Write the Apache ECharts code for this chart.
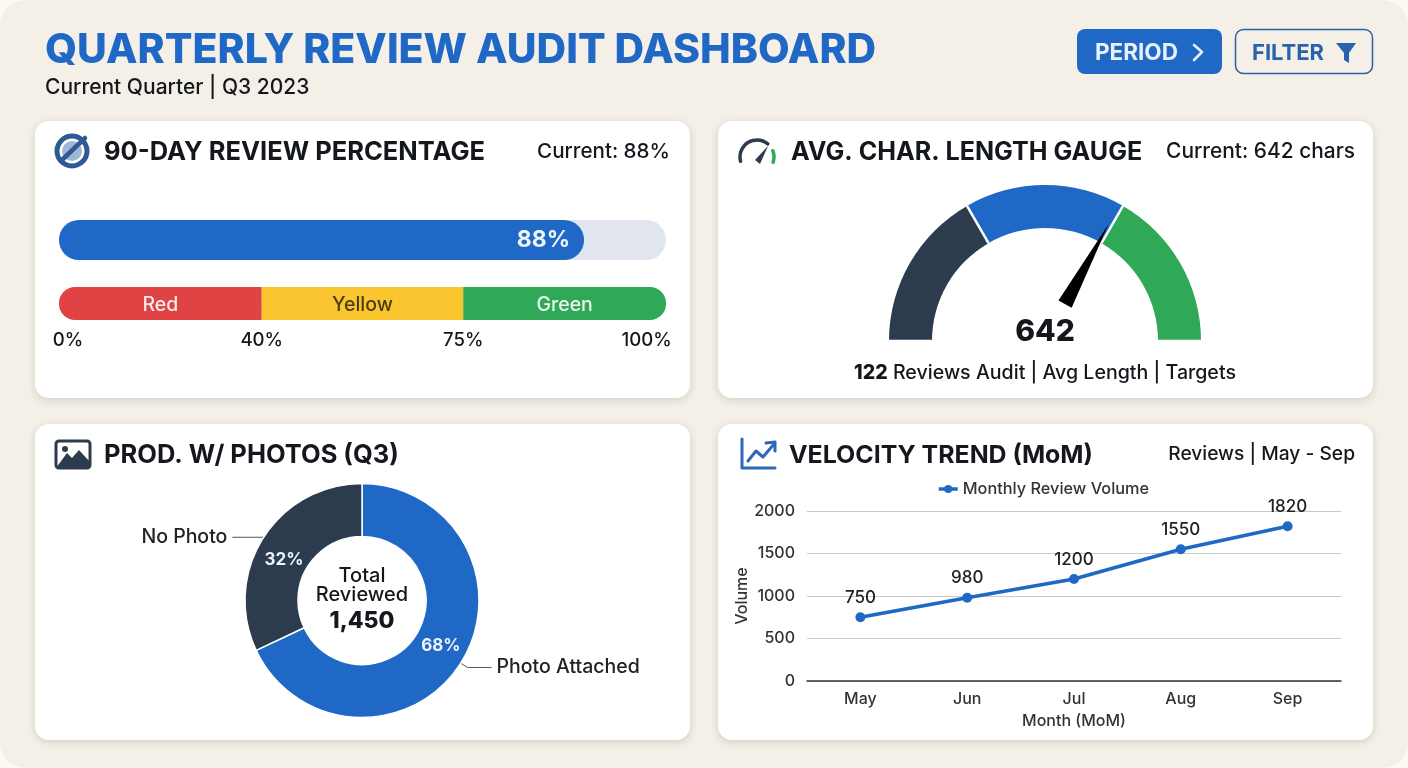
<!DOCTYPE html>
<html>
<head>
<meta charset="utf-8">
<style>
html,body{margin:0;padding:0;background:#fbfaf6;}
#main{width:1408px;height:768px;}
</style>
<script src="https://cdn.jsdelivr.net/npm/echarts@6/dist/echarts.min.js"></script>
</head>
<body>
<div id="main"></div>
<script>
var FONT = 'Inter';
var BLUE = '#1f68c6', NAVY = '#2c3b4e', GREEN = '#2fa858', INK = '#14171c';

// 90-day review
var progressLabel = '88%';
var progressDrawn = [86.5];     // where the bar actually stops in the picture
var bandNames = ['Red', 'Yellow', 'Green'];
var bandSpans = [33.4, 33.2, 33.4];   // the bands are drawn equal width, not 40/35/25
var bandColors = ['#e04343', '#fbc52f', '#2fa858'];
var bandTextColors = ['#fbeaea', '#4a3d10', '#e8f6ec'];
var bandTickLabels = ['0%', '40%', '75%', '100%'];
var bandTickSpots = [1.5, 33.4, 66.6, 96.8];

// gauge
var gaugeValue = 642;
var gaugeMax = 975;
var gaugeStops = [1 / 3, 2 / 3, 1];
var gaugeColors = [NAVY, BLUE, GREEN];

// photos
var photoNames = ['Photo Attached', 'No Photo'];
var photoShares = [68, 32];
var photoColors = [BLUE, NAVY];

// velocity
var months = ['May', 'Jun', 'Jul', 'Aug', 'Sep'];
var volumes = [750, 980, 1200, 1550, 1820];

function txt(x, y, text, size, weight, color, align) {
	return {
		type: 'text', x: x, y: y + 2, z: 5,
		style: {
			text: text, fontFamily: FONT, fontSize: size, fontWeight: weight || 400,
			fill: color || INK, align: align || 'left', verticalAlign: 'middle'
		}
	};
}
function card(x, y, w, h) {
	return {
		type: 'rect', z: 1,
		shape: { x: x, y: y, width: w, height: h, r: 14 },
		style: { fill: '#fff', shadowBlur: 9, shadowColor: 'rgba(60,50,30,0.18)', shadowOffsetY: 2 }
	};
}
function stroke(color, w) {
	return { stroke: color, lineWidth: w, fill: null, lineCap: 'round', lineJoin: 'round' };
}

var decor = [
	{ type: 'rect', z: 0, shape: { x: 0, y: 0, width: 1408, height: 768, r: 26 }, style: { fill: '#f4f0e8' } },
	card(35, 121, 655, 277), card(718, 121, 655, 277),
	card(35, 424, 655, 316), card(718, 424, 655, 316),

	txt(45, 49, 'QUARTERLY REVIEW AUDIT DASHBOARD', 41, 800, BLUE),
	txt(45, 86, 'Current Quarter | Q3 2023', 21, 500, INK),

	// buttons
	{ type: 'rect', z: 2, shape: { x: 1077, y: 29, width: 145, height: 45, r: 8 }, style: { fill: BLUE } },
	txt(1095, 51, 'PERIOD', 22.5, 700, '#e8f1fb'),
	{ type: 'polyline', z: 5, shape: { points: [[1194, 45], [1202, 52], [1194, 60]] }, style: stroke('#e8f1fb', 2.6) },
	{ type: 'rect', z: 2, shape: { x: 1235.5, y: 29.5, width: 137, height: 44, r: 8 }, style: { fill: '#f4f0e8', stroke: '#2c5f9e', lineWidth: 1.5 } },
	txt(1252, 51, 'FILTER', 22, 700, '#2a62ad'),
	{ type: 'polygon', z: 5, shape: { points: [[1336, 43], [1356, 43], [1349, 53], [1349, 63], [1344, 60], [1344, 53]] }, style: { fill: '#2a62ad' } },

	// card 1 head
	{ type: 'circle', z: 3, shape: { cx: 72, cy: 151, r: 10 }, style: { fill: '#9fb8d8' } },
	{ type: 'circle', z: 4, shape: { cx: 72, cy: 151, r: 15 }, style: stroke('#2d5a94', 5) },
	{ type: 'line', z: 4, shape: { x1: 62, y1: 160, x2: 85, y2: 138 }, style: stroke('#2d5a94', 4.5) },
	txt(104, 150.5, '90-DAY REVIEW PERCENTAGE', 25.5, 700, INK),
	txt(670, 150, 'Current: 88%', 20.6, 500, INK, 'right'),

	// card 2 head
	{ type: 'arc', z: 4, shape: { cx: 757, cy: 157, r: 17, startAngle: Math.PI * 0.92, endAngle: Math.PI * 1.72 }, style: stroke(NAVY, 3.5) },
	{ type: 'arc', z: 4, shape: { cx: 757, cy: 157, r: 17, startAngle: Math.PI * 1.88, endAngle: Math.PI * 2.1 }, style: stroke(GREEN, 3.5) },
	{ type: 'polygon', z: 4, shape: { points: [[768, 146], [760, 164], [755, 160]] }, style: { fill: NAVY } },
	txt(791, 150.5, 'AVG. CHAR. LENGTH GAUGE', 25.1, 700, INK),
	txt(1355, 150, 'Current: 642 chars', 20.9, 500, INK, 'right'),
	{
		type: 'text', x: 1045, y: 373, z: 5,
		style: {
			text: '{b|122} Reviews Audit | Avg Length | Targets', align: 'center', verticalAlign: 'middle',
			fontFamily: FONT, fontSize: 19.6, fontWeight: 500, fill: INK,
			rich: { b: { fontFamily: FONT, fontSize: 19.6, fontWeight: 800, fill: INK } }
		}
	},

	// card 3 head
	{ type: 'rect', z: 4, shape: { x: 56, y: 441, width: 34, height: 27, r: 3 }, style: stroke(NAVY, 3) },
	{ type: 'polygon', z: 4, shape: { points: [[56, 468], [67, 453], [72, 458], [79, 450], [90, 462], [90, 468]] }, style: { fill: NAVY } },
	{ type: 'circle', z: 4, shape: { cx: 65, cy: 449, r: 3 }, style: { fill: NAVY } },
	txt(104, 453.5, 'PROD. W/ PHOTOS (Q3)', 25.5, 700, INK),
	txt(362, 574, 'Total', 20, 500, INK, 'center'),
	txt(362, 593, 'Reviewed', 20, 500, INK, 'center'),
	txt(362, 619.5, '1,450', 23, 800, INK, 'center'),

	// card 4 head
	{ type: 'polyline', z: 4, shape: { points: [[742, 439], [742, 468], [775, 468]] }, style: stroke('#2d68b8', 3) },
	{ type: 'polyline', z: 4, shape: { points: [[748, 461], [756, 451], [763, 457], [774, 444]] }, style: stroke('#2d68b8', 3) },
	{ type: 'polyline', z: 4, shape: { points: [[766, 443], [775, 442], [775, 451]] }, style: stroke('#2d68b8', 3) },
	txt(789, 453.5, 'VELOCITY TREND (MoM)', 24.9, 700, INK),
	txt(1355, 452.5, 'Reviews | May - Sep', 19.2, 500, INK, 'right')
];

var bandSeries = bandNames.map(function (name, i) {
	var last = bandNames.length - 1;
	return {
		name: name, type: 'bar', stack: 'bands', xAxisIndex: 1, yAxisIndex: 1, barWidth: 33,
		data: [bandSpans[i]],
		itemStyle: {
			color: bandColors[i],
			borderRadius: i === 0 ? [16, 0, 0, 16] : (i === last ? [0, 16, 16, 0] : 0)
		},
		label: {
			show: true, position: 'inside', offset: [0, 1.5], formatter: name, fontFamily: FONT,
			fontSize: 19.5, fontWeight: 500, color: bandTextColors[i]
		}
	};
});

var option = {
	animation: false,
	backgroundColor: '#fbfaf6',
	graphic: decor,
	legend: {
		data: ['Monthly Review Volume'], top: 476, left: 932,
		itemWidth: 19, itemHeight: 10, itemGap: 5,
		lineStyle: { width: 3.5 },
		textStyle: { fontFamily: FONT, fontSize: 16.3, fontWeight: 500, color: '#333' }
	},
	grid: [
		{ left: 59, top: 220, width: 607, height: 40 },
		{ left: 59, top: 287, width: 607, height: 33 },
		{ left: 807, top: 511, width: 534, height: 170 }
	],
	xAxis: [
		{ gridIndex: 0, type: 'value', min: 0, max: 100, show: false },
		{
			gridIndex: 1, type: 'value', min: 0, max: 100, z: 3,
			axisLine: { show: false }, axisTick: { show: false }, splitLine: { show: false },
			axisLabel: {
				customValues: bandTickSpots, margin: 11, fontFamily: FONT, fontSize: 18.6, fontWeight: 500, color: INK,
				formatter: function (v) { return bandTickLabels[bandTickSpots.indexOf(v)]; }
			}
		},
		{
			gridIndex: 2, type: 'category', data: months, z: 3,
			name: 'Month (MoM)', nameLocation: 'middle', nameGap: 32,
			nameTextStyle: { fontFamily: FONT, fontSize: 16, fontWeight: 500, color: '#333' },
			axisLine: { lineStyle: { color: '#333', width: 1.5 } }, axisTick: { show: false },
			axisLabel: { margin: 10, fontFamily: FONT, fontSize: 16, fontWeight: 500, color: '#333' }
		}
	],
	yAxis: [
		{ gridIndex: 0, type: 'category', data: ['progress'], show: false },
		{ gridIndex: 1, type: 'category', data: ['bands'], show: false },
		{
			gridIndex: 2, type: 'value', min: 0, max: 2000, interval: 500, z: 3,
			name: 'Volume', nameLocation: 'middle', nameGap: 55, nameRotate: 90,
			nameTextStyle: { fontFamily: FONT, fontSize: 16, fontWeight: 500, color: '#333' },
			axisLine: { show: false }, axisTick: { show: false },
			splitLine: { lineStyle: { color: '#c9c9c9', width: 1.2 } },
			axisLabel: {
				margin: 12, fontFamily: FONT, fontSize: 16, fontWeight: 500, color: '#333',
				formatter: function (v) { return String(v); }
			}
		}
	],
	series: [
		{
			type: 'bar', xAxisIndex: 0, yAxisIndex: 0, barWidth: 40, data: progressDrawn,
			showBackground: true, backgroundStyle: { color: '#e1e5ee', borderRadius: 20 },
			itemStyle: { color: BLUE, borderRadius: 20 },
			label: {
				show: true, position: 'insideRight', distance: 14, formatter: progressLabel,
				fontFamily: FONT, fontSize: 23, fontWeight: 700, color: '#eef4fc'
			}
		}
	].concat(bandSeries).concat([
		{
			type: 'gauge', center: [1045, 341], radius: 156, startAngle: 180, endAngle: 0,
			min: 0, max: gaugeMax, splitNumber: 3,
			axisLine: {
				lineStyle: {
					width: 43,
					color: gaugeStops.map(function (s, i) { return [s, gaugeColors[i]]; })
				}
			},
			axisTick: { show: false }, axisLabel: { show: false },
			splitLine: { distance: -43, length: 43, lineStyle: { color: '#fff', width: 2.5 } },
			pointer: { icon: 'triangle', length: 91, width: 15, offsetCenter: [0, -42], itemStyle: { color: '#000' } },
			anchor: { show: false },
			title: { show: false },
			detail: {
				valueAnimation: false, offsetCenter: [0, -9], formatter: '{value}',
				fontFamily: FONT, fontSize: 30, fontWeight: 800, color: INK
			},
			data: [{ value: gaugeValue }]
		},
		{
			type: 'pie', center: [362, 600.5], radius: [64, 117], startAngle: 90, clockwise: true,
			data: photoNames.map(function (n, i) {
				return {
					name: n, value: photoShares[i], itemStyle: { color: photoColors[i] },
					label: { offset: i === 0 ? [0, -5] : [1, 9] }
				};
			}),
			itemStyle: { borderColor: '#fff', borderWidth: 1.5 },
			label: {
				position: 'inside', formatter: '{c}%', fontFamily: FONT, fontSize: 17, fontWeight: 700, color: '#eef4fc'
			},
			labelLine: { show: false }
		},
		{
			type: 'pie', center: [362, 600.5], radius: [64, 117], startAngle: 90, clockwise: true, silent: true,
			data: photoNames.map(function (n, i) {
				return {
					name: n, value: photoShares[i], itemStyle: { color: 'rgba(0,0,0,0)' },
					labelLine: { length: i === 0 ? 8 : 1, length2: i === 0 ? 24 : 30 }
				};
			}),
			label: {
				position: 'outside', formatter: '{b}', fontFamily: FONT, fontSize: 19.5, fontWeight: 500, color: '#222',
				edgeDistance: 0
			},
			labelLine: { show: true, lineStyle: { color: '#555', width: 1 } }
		},
		{
			name: 'Monthly Review Volume', type: 'line', xAxisIndex: 2, yAxisIndex: 2, data: volumes,
			symbol: 'circle', symbolSize: 10,
			lineStyle: { color: BLUE, width: 3.5 }, itemStyle: { color: BLUE },
			label: { show: true, position: 'top', distance: 6, fontFamily: FONT, fontSize: 17, fontWeight: 500, color: '#222' }
		}
	])
};

var chart = echarts.init(document.getElementById('main'));
chart.setOption(option);
</script>
</body>
</html>
